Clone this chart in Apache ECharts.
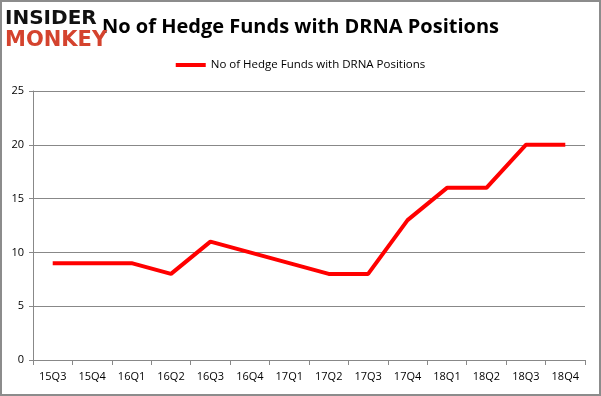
<!DOCTYPE html>
<html>
<head>
<meta charset="utf-8">
<script src="https://cdn.jsdelivr.net/npm/echarts@6/dist/echarts.min.js"></script>
<style>
  html, body { margin: 0; padding: 0; background: #fff; }
  #box1 { width: 601px; height: 396px; box-sizing: border-box; border: 2px solid #8c8c8c; }
</style>
</head>
<body>
<div id="box1"></div>
<script>
var quarters = ['15Q3', '15Q4', '16Q1', '16Q2', '16Q3', '16Q4', '17Q1', '17Q2', '17Q3', '17Q4', '18Q1', '18Q2', '18Q3', '18Q4'];
var fundCounts = [9, 9, 9, 8, 11, 10, 9, 8, 8, 13, 16, 16, 20, 20];
var seriesName = 'No of Hedge Funds with DRNA Positions';

var myChart1 = echarts.init(document.getElementById('box1'));
var option = {
    backgroundColor: '#fff',
    animation: false,
    title: {
        text: seriesName,
        left: 'center',
        top: 10,
        textStyle: {
            fontFamily: 'Open Sans',
            fontWeight: 'bold',
            fontSize: 20,
            color: '#000'
        }
    },
    graphic: [
        {
            type: 'text',
            left: 3,
            top: 7,
            z: 10,
            style: {
                text: 'INSIDER',
                fontFamily: 'DejaVu Sans',
                fontWeight: 'bold',
                fontSize: 20,
                fill: '#111',
                backgroundColor: '#fff'
            }
        },
        {
            type: 'text',
            left: 3,
            top: 28,
            z: 10,
            style: {
                text: 'MONKEY',
                fontFamily: 'DejaVu Sans',
                fontWeight: 'bold',
                fontSize: 21,
                fill: '#d4432e'
            }
        }
    ],
    legend: {
        data: [seriesName],
        top: 52,
        left: 'center',
        itemWidth: 30,
        itemHeight: 4,
        itemGap: 4,
        icon: 'rect',
        textStyle: {
            fontFamily: 'Open Sans',
            fontSize: 11.5,
            color: '#000'
        }
    },
    grid: {
        left: 31,
        right: 14,
        top: 89,
        bottom: 34
    },
    xAxis: {
        type: 'category',
        data: quarters,
        boundaryGap: true,
        axisLine: { lineStyle: { color: '#888' } },
        axisTick: { show: true, alignWithLabel: false, length: 5, lineStyle: { color: '#888' } },
        axisLabel: {
            fontFamily: 'Open Sans',
            fontSize: 11,
            color: '#000',
            margin: 11,
            interval: 0
        }
    },
    yAxis: {
        type: 'value',
        min: 0,
        max: 25,
        interval: 5,
        axisLine: { show: true, lineStyle: { color: '#888' } },
        axisTick: { show: true, length: 4, lineStyle: { color: '#888' } },
        splitLine: { show: true, lineStyle: { color: '#888' } },
        axisLabel: {
            fontFamily: 'Open Sans',
            fontSize: 11,
            color: '#000',
            margin: 9
        }
    },
    series: [
        {
            name: seriesName,
            type: 'line',
            data: fundCounts,
            symbol: 'none',
            lineStyle: { color: '#ff0000', width: 4 },
            itemStyle: { color: '#ff0000' }
        }
    ]
};
myChart1.setOption(option);
</script>
</body>
</html>
